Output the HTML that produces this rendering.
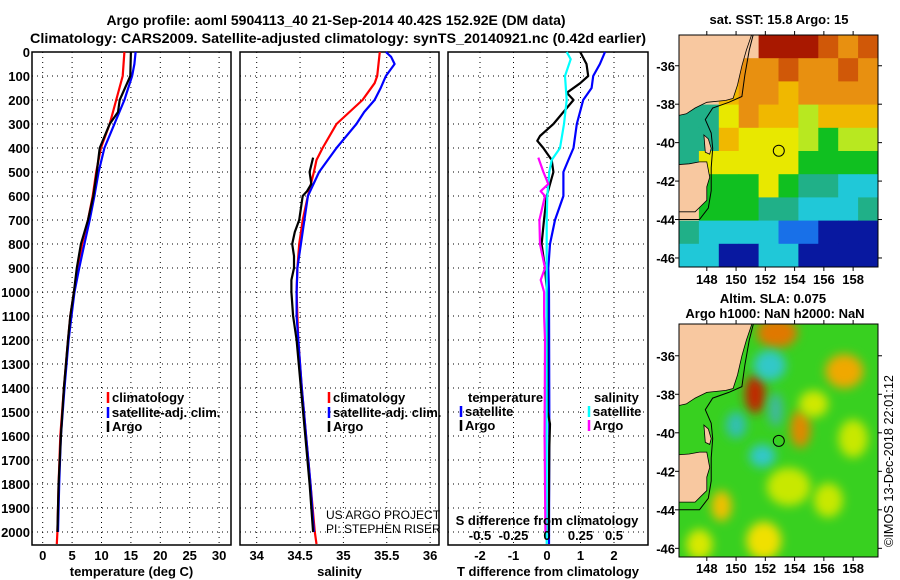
<!DOCTYPE html>
<html><head><meta charset="utf-8"><style>
html,body{margin:0;padding:0;background:#fff;}
svg{display:block;font-family:"Liberation Sans",sans-serif;}
.b{font-weight:bold;}
</style></head><body>
<svg id="c" width="900" height="580" viewBox="0 0 900 580">
<text class="b" x="336" y="25" font-size="14" text-anchor="middle">Argo profile: aoml 5904113_40 21-Sep-2014 40.42S 152.92E (DM data)</text>
<text class="b" x="338" y="43" font-size="14" text-anchor="middle" textLength="616" lengthAdjust="spacingAndGlyphs">Climatology: CARS2009. Satellite-adjusted climatology: synTS_20140921.nc (0.42d earlier)</text>
<g id="plots"></g>
<g id="maps"></g>
</svg>
<script>
// ---------- data ----------
const depthTicks=[0,100,200,300,400,500,600,700,800,900,1000,1100,1200,1300,1400,1500,1600,1700,1800,1900,2000];
const tempTicks=[0,5,10,15,20,25,30];
const salTicks=[34,34.5,35,35.5,36];
const salTickLabels=["34","34.5","35","35.5","36"];
const tdTicks=[-2,-1,0,1,2];
const sdTickLabels=["-0.5","-0.25","0","0.25","0.5"];
const sdTicks=[-0.5,-0.25,0,0.25,0.5];

const tClimDepth=[0,100,200,300,400,500,600,700,800,900,1000,1100,1200,1400,1600,1800,2000,2050];
const tClim=[13.9,13.6,12.5,11.4,9.9,9.1,8.5,7.7,6.7,6.0,5.3,4.7,4.3,3.6,3.0,2.7,2.5,2.4];
const tSatDepth=[0,50,100,200,300,400,500,600,700,800,900,1000,1100,1200,1400,1600,1800,2000];
const tSat=[15.8,15.6,15.2,13.9,12.2,10.5,9.5,8.8,8.0,7.1,6.2,5.4,4.9,4.4,3.7,3.1,2.8,2.6];
const tArgoDepth=[0,100,150,200,250,300,400,500,600,700,800,900,1000,1100,1200,1400,1600,1800,2000];
const tArgo=[15.0,14.9,14.0,13.1,12.8,11.4,9.7,9.2,8.6,7.7,6.5,5.8,5.3,4.7,4.3,3.6,3.1,2.7,2.5];

const sClimDepth=[0,100,130,200,300,400,450,500,600,700,800,900,1000,1100,1200,1400,1600,1800,2000,2050];
const sClim=[35.42,35.39,35.36,35.22,34.92,34.76,34.69,34.66,34.59,34.53,34.49,34.47,34.46,34.47,34.48,34.52,34.57,34.62,34.67,34.69];
const sSatDepth=[0,20,50,100,150,200,250,300,400,500,600,700,800,900,1000,1100,1200,1400,1600,1800,2000];
const sSat=[35.49,35.55,35.59,35.49,35.43,35.36,35.24,35.15,34.92,34.72,34.59,34.55,34.51,34.47,34.46,34.46,34.48,34.52,34.57,34.62,34.66];
const sArgoDepth=[440,500,550,580,600,700,750,800,850,900,950,1000,1100,1200,1400,1600,1800,2000];
const sArgo=[34.65,34.61,34.63,34.58,34.53,34.49,34.44,34.41,34.43,34.43,34.40,34.40,34.42,34.46,34.51,34.56,34.61,34.65];

const dtSatDepth=[0,50,100,150,200,300,400,450,500,600,700,800,900,1000,1500,2050];
const dtSat=[1.73,1.58,1.38,1.33,1.08,0.89,0.79,0.64,0.49,0.49,0.24,0.09,0.04,0.06,0.07,0.06];
const dtArgoDepth=[0,50,100,130,170,200,250,300,350,370,400,450,500,600,700,800,900,1000,1500,1550,1650,2000];
const dtArgo=[0.99,1.18,1.23,0.99,0.59,0.79,0.49,0.19,-0.21,-0.29,-0.11,0.14,0.19,-0.01,-0.09,-0.16,-0.06,0.0,0.02,0.09,0.07,0.05];
const dsSatDepth=[0,30,100,200,300,400,450,500,600,700,1200,2050];
const dsSat=[0.147,0.177,0.134,0.147,0.127,0.097,0.035,0.017,0.002,-0.002,-0.003,-0.002];
const dsArgoDepth=[440,500,550,580,600,700,800,900,950,1000,1100,1200,1600,2000];
const dsArgo=[-0.065,-0.027,0.01,-0.047,-0.015,-0.057,-0.052,-0.015,-0.047,-0.022,-0.022,-0.015,-0.018,-0.012];

// ---------- helpers ----------
const NS='http://www.w3.org/2000/svg';
function mk(tag,attrs,parent,txt){const e=document.createElementNS(NS,tag);for(const k in attrs)e.setAttribute(k,attrs[k]);if(txt!==undefined)e.textContent=txt;parent.appendChild(e);return e;}
const plots=document.getElementById('plots');
const TOP=52,BOT=545;
const yD=d=>TOP+d*0.24;

function panel(name,x0,x1,xf,vticks,labels,title){
  const g=mk('g',{},plots);
  
  
  for(const d of depthTicks){
    const l=mk('line',{x1:x0,x2:x1,y1:yD(d),y2:yD(d),stroke:'#000','stroke-width':1,'stroke-dasharray':'1,4'},g);
    
    
  }
  vticks.forEach((v,i)=>{
    const x=xf(v);
    const l=mk('line',{x1:x,x2:x,y1:TOP,y2:BOT,stroke:'#000','stroke-width':1,'stroke-dasharray':'1,4'},g);
    
    
    const t=mk('text',{x:x,y:560,'font-size':13,'text-anchor':'middle','class':'b'},g,labels[i]);
    
    
  });
  const r=mk('rect',{x:x0,y:TOP,width:x1-x0,height:BOT-TOP,fill:'none',stroke:'#000','stroke-width':1.5},g);
  
  
  const t=mk('text',{x:(x0+x1)/2,y:576,'font-size':13,'text-anchor':'middle','class':'b'},g,title);
  
  
  return g;
}
function series(g,name,depths,vals,xf,color){
  const pts=depths.map((d,i)=>xf(vals[i]).toFixed(1)+','+yD(d).toFixed(1)).join(' ');
  const p=mk('polyline',{points:pts,fill:'none',stroke:color,'stroke-width':2.2,'stroke-linejoin':'round'},g);
  
  
}
function legend(g,name,x,y,color,label){
  const l=mk('line',{x1:x,x2:x,y1:y-10,y2:y+1,stroke:color,'stroke-width':2.5},g);
  
  
  const t=mk('text',{x:x+4,y:y,'font-size':13,'class':'b'},g,label);
  
  
}

for(const d of depthTicks){
  const t=mk('text',{x:30,y:yD(d)+5,'font-size':13,'text-anchor':'end','class':'b'},plots,String(d));
  
  
}

const xT=v=>42.7+v*5.88;
const g1=panel('temperature-panel',32,231,xT,tempTicks,tempTicks.map(String),'temperature (deg C)');
series(g1,'temp-climatology-line',tClimDepth,tClim,xT,'#f00');
series(g1,'temp-satellite-line',tSatDepth,tSat,xT,'#00f');
series(g1,'temp-argo-line',tArgoDepth,tArgo,xT,'#000');
legend(g1,'legend-climatology',108,402,'#f00','climatology');
legend(g1,'legend-satellite-adj',108,417,'#00f','satellite-adj. clim.');
legend(g1,'legend-argo',108,431,'#000','Argo');

const xS=v=>256.7+(v-34)*86.7;
const g2=panel('salinity-panel',240,439,xS,salTicks,salTickLabels,'salinity');
series(g2,'sal-climatology-line',sClimDepth,sClim,xS,'#f00');
series(g2,'sal-satellite-line',sSatDepth,sSat,xS,'#00f');
series(g2,'sal-argo-line',sArgoDepth,sArgo,xS,'#000');
legend(g2,'legend-climatology-s',329,402,'#f00','climatology');
legend(g2,'legend-satellite-adj-s',329,417,'#00f','satellite-adj. clim.');
legend(g2,'legend-argo-s',329,431,'#000','Argo');
let tt=mk('text',{x:326,y:519,'font-size':12},g2,'US ARGO PROJECT');

tt=mk('text',{x:326,y:533,'font-size':12},g2,'PI: STEPHEN RISER');


const xTD=v=>547+v*33.5;
const xSD=v=>547+v*134;
const g3=panel('difference-panel',448,648,xTD,tdTicks,tdTicks.map(String),'T difference from climatology');
series(g3,'dt-satellite-line',dtSatDepth,dtSat,xTD,'#00f');
series(g3,'dt-argo-line',dtArgoDepth,dtArgo,xTD,'#000');
series(g3,'ds-satellite-line',dsSatDepth,dsSat,xSD,'#0ff');
series(g3,'ds-argo-line',dsArgoDepth,dsArgo,xSD,'#f0f');
tt=mk('text',{x:468,y:402,'font-size':13,'class':'b'},g3,'temperature');

tt=mk('text',{x:594,y:402,'font-size':13,'class':'b'},g3,'salinity');

legend(g3,'legend-t-satellite',461,416,'#00f','satellite');
legend(g3,'legend-t-argo',461,430,'#000','Argo');
legend(g3,'legend-s-satellite',589,416,'#0ff','satellite');
legend(g3,'legend-s-argo',589,430,'#f0f','Argo');
tt=mk('text',{x:547,y:525,'font-size':13,'class':'b','text-anchor':'middle'},g3,'S difference from climatology');

sdTicks.forEach((v,i)=>{
  const t=mk('text',{x:xSD(v),y:540,'font-size':13,'class':'b','text-anchor':'middle'},g3,sdTickLabels[i]);
  
  
});

// ---------- maps ----------
const maps=document.getElementById('maps');
const latTicks=[-36,-38,-40,-42,-44,-46];
const lonTicks=[148,150,152,154,156,158];
const sstGrid=[
"LLLLRRRrOr",
"LLLOOrOOrO",
"LLoOOoOOOO",
"ggYOooyooo",
"ggoYYYyGyy",
"gYYYYYGGGG",
"LGGGYGggCC",
"LGGGggCCCg",
"gCCCCBBNNN",
"CCNNCCNNNN"];
const pal={L:'#f8c8a0',R:'#a81800',r:'#d05808',O:'#e89010',o:'#f0b800',Y:'#e8e800',y:'#b8e820',G:'#10c020',g:'#20b088',C:'#20c8d8',B:'#1870e8',N:'#0818a0'};
const mainland=[[146,-34.3],[151.1,-34.3],[150.7,-35.2],[150.4,-36],[150.1,-37],[149.8,-37.7],[149.3,-37.8],[148,-37.9],[147.2,-38.2],[146.6,-38.5],[146,-38.6]];
const tasmania=[[146,-41.15],[146.8,-41.1],[147.5,-41.0],[148.0,-41.0],[148.2,-41.8],[148.0,-42.3],[148.0,-43],[147.6,-43.3],[147.2,-43.6],[146,-43.6]];
const flinders=[[147.8,-39.6],[148.1,-39.8],[148.3,-40.3],[148.2,-40.6],[147.9,-40.5]];
const isobath=[[151.2,-34.3],[150.9,-35.2],[150.6,-36.5],[150.4,-37.6],[149.5,-37.9],[148.4,-38.2],[147.9,-38.8],[148.3,-39.5],[148.4,-40.3],[148.3,-41.3],[148.3,-42.5],[148.1,-43.4],[147.5,-44],[146,-44]];
const floatPos=[152.92,-40.42];
const slaBlobs=[[152.8,-34.8,1.4,0.8,'#e07800'],[151.3,-38.0,0.7,1.0,'#c02800'],[154.4,-39.8,0.7,1.0,'#e08800'],[157.4,-36.8,1.3,0.9,'#f0a800'],[152.3,-36.5,1.1,0.8,'#30c8c8'],[150,-39.6,0.7,0.7,'#30c0b0'],[151.8,-41.2,0.9,0.6,'#30c8c8'],[152.7,-38.8,0.5,0.9,'#40b8a0'],[149,-43.8,0.7,0.8,'#f0c000'],[151.9,-45.6,1.2,1.0,'#f0e000'],[155.3,-38.5,1.0,0.7,'#d0e800'],[153.6,-42.8,1.5,1.0,'#c8e800'],[158,-40.3,1.0,1.0,'#c8e800'],[147.5,-45.8,0.9,0.8,'#d8e800'],[156.3,-43.5,1.0,0.9,'#c8e800']];

function drawMap(name,y0,y1,latTop,latBot,kind,lonLabelY){
  const x0=679,x1=878,lonL=146.1,lonR=159.7;
  const lonF=v=>x0+(v-lonL)*((x1-x0)/(lonR-lonL));
  const latF=v=>y0+(latTop-v)*((y1-y0)/(latTop-latBot));
  const g=mk('g',{},maps);
  
  
  const cid='clip'+kind;
  const cp=mk('clipPath',{id:cid},g);
  mk('rect',{x:x0,y:y0,width:x1-x0,height:y1-y0},cp);
  const inner=mk('g',{'clip-path':'url(#'+cid+')'},g);
  if(kind==='sst'){
    const cw=(x1-x0)/10,ch=(y1-y0)/10;
    sstGrid.forEach((row,r)=>{[...row].forEach((c,k)=>{
      const re=mk('rect',{x:x0+k*cw,y:y0+r*ch,width:cw+0.5,height:ch+0.5,fill:pal[c]},inner);
      
      
    });});
  } else {
    mk('rect',{x:x0,y:y0,width:x1-x0,height:y1-y0,fill:'#38d020'},inner);
    const f=mk('filter',{id:'blur',x:'-50%',y:'-50%',width:'200%',height:'200%'},g);
    mk('feGaussianBlur',{stdDeviation:5},f);
    slaBlobs.forEach(b=>{
      const e=mk('ellipse',{cx:lonF(b[0]),cy:latF(b[1]),rx:b[2]*14.6,ry:b[3]*19,fill:b[4],filter:'url(#blur)'},inner);
      
      
    });
  }
  const poly=(pts)=>pts.map(p=>lonF(p[0]).toFixed(1)+','+latF(p[1]).toFixed(1)).join(' ');
  [mainland,tasmania,flinders].forEach(p=>{
    const e=mk('polygon',{points:poly(p),fill:'#f8c8a0',stroke:'#000','stroke-width':0.8},inner);
    
    
  });
  const iso=mk('polyline',{points:poly(isobath),fill:'none',stroke:'#000','stroke-width':1},inner);
  
  
  const c=mk('circle',{cx:lonF(floatPos[0]),cy:latF(floatPos[1]),r:5.5,fill:'none',stroke:'#000','stroke-width':1},inner);
  
  
  const fr=mk('rect',{x:x0,y:y0,width:x1-x0,height:y1-y0,fill:'none',stroke:'#000','stroke-width':1},g);
  
  
  latTicks.forEach(v=>{
    const y=latF(v);
    mk('line',{x1:x0-4,x2:x0,y1:y,y2:y,stroke:'#000'},g);
    mk('line',{x1:x1,x2:x1+4,y1:y,y2:y,stroke:'#000'},g);
    const t=mk('text',{x:x0-4,y:y+5,'font-size':13,'class':'b','text-anchor':'end'},g,String(v));
    
    
  });
  lonTicks.forEach(v=>{
    const x=lonF(v);
    mk('line',{x1:x,x2:x,y1:y0-4,y2:y0,stroke:'#000'},g);
    mk('line',{x1:x,x2:x,y1:y1,y2:y1+4,stroke:'#000'},g);
    const t=mk('text',{x:x,y:lonLabelY,'font-size':13,'class':'b','text-anchor':'middle'},g,String(v));
    
    
  });
}
drawMap('sst-map',35,267,-34.4,-46.47,'sst',284);
drawMap('sla-map',324,557,-34.35,-46.45,'sla',573);
tt=mk('text',{x:779,y:24,'font-size':13,'class':'b','text-anchor':'middle'},maps,'sat. SST: 15.8 Argo: 15');

tt=mk('text',{x:773,y:303,'font-size':13,'class':'b','text-anchor':'middle'},maps,'Altim. SLA: 0.075');

tt=mk('text',{x:775,y:318,'font-size':13,'class':'b','text-anchor':'middle'},maps,'Argo h1000: NaN h2000: NaN');

tt=mk('text',{x:0,y:0,'font-size':13,'transform':'translate(893,547) rotate(-90)','textLength':172,'lengthAdjust':'spacingAndGlyphs'},maps,'©IMOS 13-Dec-2018 22:01:12');

</script>
</body></html>
